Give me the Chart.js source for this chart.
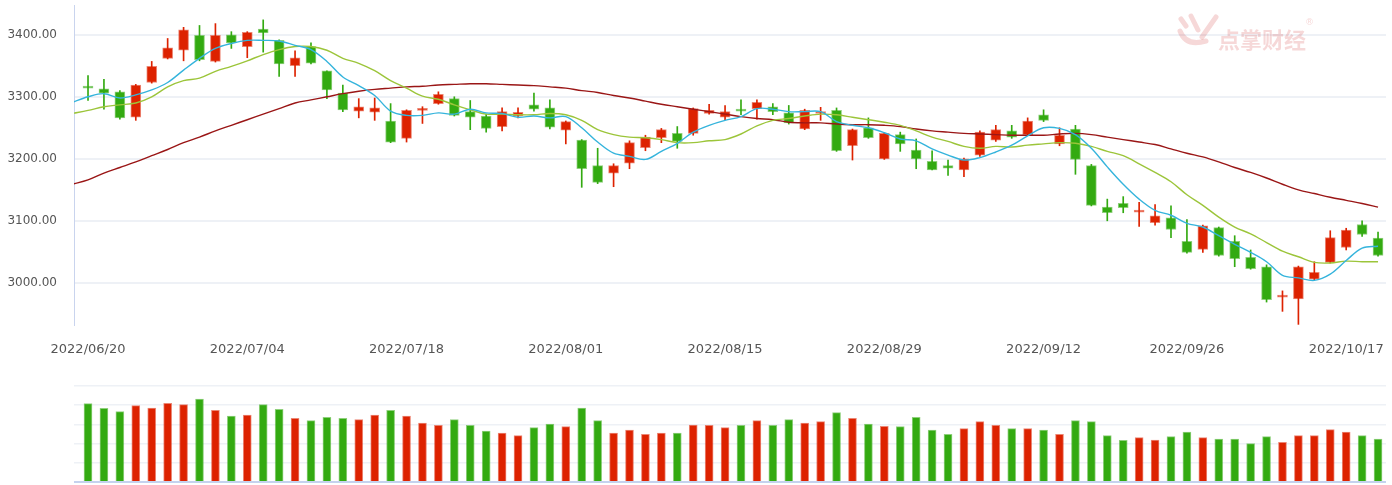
<!DOCTYPE html>
<html>
<head>
<meta charset="utf-8">
<script src="https://cdn.jsdelivr.net/npm/chart.js@4.4.0/dist/chart.umd.min.js"></script>
<style>
    html, body { margin: 0; padding: 0; background: #fff; }
    #wrap { position: relative; width: 1392px; height: 485px; }
    #kline { position: absolute; left: 0; top: 0; }
    #vol { position: absolute; left: 0; top: 380px; }
</style>
</head>
<body>
<div id="wrap">
    <canvas id="kline" width="1392" height="360"></canvas>
    <canvas id="vol" width="1392" height="105"></canvas>
</div>
<script>
// trading days in the window (index = x position)
const dates = [
    '2022/06/20', '2022/06/21', '2022/06/22', '2022/06/23', '2022/06/24', '2022/06/27', '2022/06/28', '2022/06/29', '2022/06/30',
    '2022/07/01', '2022/07/04', '2022/07/05', '2022/07/06', '2022/07/07', '2022/07/08', '2022/07/11', '2022/07/12', '2022/07/13',
    '2022/07/14', '2022/07/15', '2022/07/18', '2022/07/19', '2022/07/20', '2022/07/21', '2022/07/22', '2022/07/25', '2022/07/26',
    '2022/07/27', '2022/07/28', '2022/07/29', '2022/08/01', '2022/08/02', '2022/08/03', '2022/08/04', '2022/08/05', '2022/08/08',
    '2022/08/09', '2022/08/10', '2022/08/11', '2022/08/12', '2022/08/15', '2022/08/16', '2022/08/17', '2022/08/18', '2022/08/19',
    '2022/08/22', '2022/08/23', '2022/08/24', '2022/08/25', '2022/08/26', '2022/08/29', '2022/08/30', '2022/08/31', '2022/09/01',
    '2022/09/02', '2022/09/05', '2022/09/06', '2022/09/07', '2022/09/08', '2022/09/09', '2022/09/13', '2022/09/14', '2022/09/15',
    '2022/09/16', '2022/09/19', '2022/09/20', '2022/09/21', '2022/09/22', '2022/09/23', '2022/09/26', '2022/09/27', '2022/09/28',
    '2022/09/29', '2022/09/30', '2022/10/10', '2022/10/11', '2022/10/12', '2022/10/13', '2022/10/14', '2022/10/17', '2022/10/18',
    '2022/10/19'
]

const open_ = [3316, 3313, 3308, 3267, 3323, 3362, 3375, 3399, 3357, 3400, 3381, 3409, 3391, 3350, 3381, 3342, 3306, 3277, 3275, 3261,
    3233, 3278, 3289, 3297, 3276, 3269, 3252, 3269, 3287, 3282, 3246, 3230, 3189, 3177, 3193, 3218, 3234, 3241, 3241, 3273,
    3267, 3279, 3281, 3284, 3274, 3248, 3273, 3278, 3221, 3250, 3200, 3239, 3214, 3196, 3189, 3182, 3206, 3230, 3245, 3239,
    3271, 3224, 3248, 3189, 3122, 3128, 3114, 3097, 3105, 3067, 3054, 3089, 3067, 3041, 3026, 2977, 2974, 3006, 3033, 3057,
    3094, 3072]
const close_ = [3314, 3306, 3266, 3319, 3349, 3379, 3408, 3360, 3399, 3387, 3404, 3403, 3353, 3363, 3354, 3311, 3279, 3284, 3282, 3227,
    3278, 3279, 3304, 3270, 3267, 3249, 3276, 3275, 3280, 3251, 3260, 3184, 3162, 3189, 3226, 3235, 3247, 3228, 3281, 3278,
    3276, 3277, 3291, 3276, 3258, 3278, 3276, 3213, 3247, 3234, 3241, 3224, 3200, 3182, 3185, 3200, 3243, 3247, 3235, 3261,
    3262, 3238, 3199, 3125, 3113, 3121, 3117, 3108, 3086, 3049, 3092, 3044, 3039, 3023, 2973, 2980, 3026, 3017, 3073, 3085,
    3078, 3044]
const high_ = [3334, 3328, 3310, 3320, 3357, 3394, 3412, 3415, 3418, 3405, 3405, 3424, 3392, 3374, 3387, 3342, 3319, 3297, 3298, 3289,
    3279, 3284, 3308, 3300, 3294, 3272, 3282, 3282, 3306, 3295, 3261, 3231, 3217, 3192, 3229, 3238, 3249, 3252, 3282, 3288,
    3286, 3295, 3295, 3289, 3286, 3280, 3283, 3282, 3248, 3266, 3242, 3243, 3232, 3213, 3198, 3201, 3245, 3254, 3254, 3266,
    3279, 3250, 3254, 3191, 3135, 3139, 3130, 3126, 3124, 3102, 3093, 3090, 3076, 3053, 3029, 2987, 3027, 3034, 3084, 3088,
    3100, 3082]
const low_ = [3294, 3280, 3264, 3262, 3322, 3361, 3358, 3358, 3356, 3378, 3363, 3372, 3333, 3333, 3353, 3297, 3276, 3266, 3262, 3226,
    3227, 3257, 3288, 3269, 3247, 3243, 3245, 3266, 3277, 3248, 3224, 3154, 3160, 3155, 3184, 3213, 3226, 3217, 3238, 3272,
    3263, 3271, 3264, 3271, 3256, 3247, 3262, 3212, 3198, 3233, 3199, 3212, 3184, 3182, 3173, 3171, 3204, 3228, 3233, 3238,
    3260, 3221, 3175, 3124, 3100, 3113, 3091, 3093, 3073, 3048, 3049, 3043, 3026, 3022, 2969, 2954, 2933, 3005, 3032, 3053,
    3075, 3043]

const volume = [4080, 3837, 3663, 3975, 3854, 4097, 4028, 4323, 3732, 3437, 3489, 4028, 3785, 3316, 3194, 3368, 3316, 3246, 3489, 3732,
    3437, 3073, 2951, 3246, 2951, 2656, 2552, 2413, 2830, 3021, 2882, 3854, 3194, 2552, 2708, 2483, 2552, 2552, 2969, 2951,
    2830, 2951, 3194, 2951, 3246, 3073, 3142, 3611, 3316, 3021, 2899, 2882, 3368, 2708, 2483, 2778, 3142, 2951, 2778, 2778,
    2708, 2483, 3194, 3142, 2413, 2170, 2309, 2187, 2361, 2604, 2309, 2240, 2240, 1996, 2361, 2066, 2413, 2413, 2725, 2604,
    2413, 2240]

const ma5 = [3300, 3305, 3298, 3303, 3311, 3323, 3343, 3362, 3378, 3386, 3391, 3391, 3390, 3383, 3376, 3357, 3332, 3318, 3302, 3277,
    3270, 3270, 3274, 3272, 3280, 3274, 3273, 3267, 3269, 3266, 3268, 3250, 3227, 3209, 3204, 3199, 3212, 3225, 3243, 3254,
    3262, 3268, 3281, 3280, 3276, 3276, 3276, 3260, 3254, 3250, 3242, 3232, 3229, 3216, 3206, 3198, 3202, 3211, 3222, 3237,
    3250, 3249, 3239, 3217, 3187, 3159, 3135, 3117, 3109, 3096, 3090, 3076, 3062, 3049, 3034, 3012, 3008, 3004, 3014, 3036,
    3056, 3059]
const ma10 = [3278, 3284, 3287, 3290, 3300, 3316, 3326, 3330, 3341, 3349, 3358, 3368, 3376, 3381, 3381, 3375, 3362, 3354, 3342, 3326,
    3314, 3301, 3296, 3287, 3279, 3272, 3272, 3271, 3271, 3273, 3271, 3262, 3247, 3239, 3235, 3234, 3231, 3226, 3226, 3229,
    3231, 3240, 3253, 3262, 3265, 3269, 3272, 3271, 3267, 3263, 3259, 3254, 3245, 3235, 3228, 3220, 3217, 3220, 3219, 3222,
    3224, 3226, 3225, 3220, 3212, 3205, 3192, 3178, 3163, 3142, 3125, 3106, 3090, 3079, 3065, 3051, 3042, 3033, 3032, 3035,
    3034, 3034]
const ma30 = [3166, 3177, 3186, 3195, 3205, 3215, 3226, 3235, 3245, 3254, 3263, 3272, 3281, 3290, 3295, 3300, 3305, 3309, 3312, 3314,
    3316, 3317, 3319, 3320, 3321, 3321, 3320, 3319, 3318, 3316, 3314, 3310, 3307, 3302, 3298, 3293, 3288, 3284, 3280, 3276,
    3272, 3268, 3265, 3263, 3259, 3258, 3258, 3256, 3255, 3255, 3254, 3252, 3248, 3245, 3243, 3241, 3240, 3239, 3238, 3238,
    3238, 3240, 3241, 3239, 3235, 3231, 3227, 3223, 3216, 3209, 3203, 3195, 3186, 3178, 3169, 3159, 3150, 3144, 3138, 3133,
    3128, 3122]
// MA values of the day before the window (06/17), the lines run in from the left edge
const maPrev = [3291, 3273, 3159]

const tickPos = [0, 10, 20, 30, 40, 50, 60, 69, 79]
const tickLabels = ['2022/06/20', '2022/07/04', '2022/07/18', '2022/08/01', '2022/08/15', '2022/08/29', '2022/09/12', '2022/09/26', '2022/10/17']
const priceTicks = [3000, 3100, 3200, 3300, 3400]
const volTicks = [0, 1000, 2000, 3000, 4000, 5000]

const RED = '#dd2200'
const GREEN = '#33aa11'
const RED_EDGE = 'rgba(221,34,0,0.55)'
const GREEN_EDGE = 'rgba(51,170,17,0.55)'
const xMin = -0.88
const xMax = 81.5

Chart.defaults.font.family = "'DejaVu Sans', sans-serif"
Chart.defaults.animation = false

const isUp = close_.map((c, i) => c >= open_[i])
const fill = isUp.map(u => u ? RED : GREEN)
const edge = isUp.map(u => u ? RED_EDGE : GREEN_EDGE)

const lineData = (arr, prev) => [{x: -1, y: prev}].concat(arr.map((v, i) => ({x: i, y: v})))

const maLine = (label, arr, prev, color) => ({
    type: 'line',
    label: label,
    data: lineData(arr, prev),
    borderColor: color,
    borderWidth: 1.4,
    pointRadius: 0,
    tension: 0.35,
    order: 0,
})

// keep the plot box where the reference has it
const noPad = (s) => {
    s.paddingTop = 0
    s.paddingBottom = 0
    s.paddingLeft = 0
    s.paddingRight = 0
}

const watermark = {
    id: 'watermark',
    beforeDatasetsDraw: (chart) => {
        const ctx = chart.ctx
        ctx.save()
        ctx.globalAlpha = 0.2
        ctx.strokeStyle = '#d23c3c'
        ctx.fillStyle = '#d23c3c'
        ctx.lineCap = 'round'
        ctx.lineWidth = 5
        // hand logo, a few strokes
        ctx.beginPath()
        ctx.moveTo(1181, 19); ctx.lineTo(1186, 26)
        ctx.moveTo(1191, 16); ctx.lineTo(1198, 30)
        ctx.moveTo(1216, 17); ctx.lineTo(1202, 37)
        ctx.stroke()
        ctx.beginPath()
        ctx.moveTo(1180, 31)
        ctx.quadraticCurveTo(1186, 47, 1206, 41)
        ctx.stroke()
        ctx.font = "bold 22px 'Noto Sans CJK SC'"
        ctx.textBaseline = 'middle'
        ctx.fillText('点掌财经', 1218, 40)
        ctx.font = "9px 'DejaVu Sans'"
        ctx.fillText('®', 1305, 23)
        ctx.restore()
    }
}

new Chart(document.getElementById('kline'), {
    type: 'bar',
    data: {
        datasets: [
            maLine('MA5', ma5, maPrev[0], '#35b4dc'),
            maLine('MA10', ma10, maPrev[1], '#9cc53a'),
            maLine('MA30', ma30, maPrev[2], '#9a1616'),
            {
                label: 'body',
                data: open_.map((o, i) => ({x: i, y: [o, close_[i]]})),
                backgroundColor: fill,
                borderColor: edge,
                borderWidth: 1,
                borderSkipped: false,
                barThickness: 10,
                minBarLength: 2,
                grouped: false,
                order: 1,
            },
            {
                label: 'wick',
                data: high_.map((h, i) => ({x: i, y: [low_[i], h]})),
                backgroundColor: fill,
                barThickness: 1,
                grouped: false,
                order: 2,
            },
        ]
    },
    options: {
        responsive: false,
        devicePixelRatio: 1,
        layout: {padding: {top: 5, right: 6, left: 0, bottom: 0}},
        plugins: {legend: {display: false}, tooltip: {enabled: false}},
        scales: {
            x: {
                type: 'linear',
                min: xMin,
                max: xMax,
                offset: false,
                grid: {display: false, offset: false},
                border: {display: false},
                afterBuildTicks: (s) => { s.ticks = tickPos.map(v => ({value: v})) },
                afterFit: (s) => { s.height = 35; noPad(s) },
                ticks: {
                    autoSkip: false,
                    maxRotation: 0,
                    padding: 9,
                    color: '#555',
                    font: {size: 13},
                    callback: (v) => tickLabels[tickPos.indexOf(v)],
                },
            },
            y: {
                min: 2932,
                max: 3448,
                afterBuildTicks: (s) => { s.ticks = priceTicks.map(v => ({value: v})) },
                afterFit: (s) => { s.width = 74; noPad(s) },
                grid: {color: '#eef1f6', lineWidth: 2, drawTicks: false},
                border: {display: true, color: '#c9d4ee', width: 1},
                ticks: {
                    padding: 17,
                    color: '#555',
                    font: {size: 12},
                    callback: (v) => v.toFixed(2),
                },
            },
        },
    },
    plugins: [watermark],
})

new Chart(document.getElementById('vol'), {
    type: 'bar',
    data: {
        datasets: [{
            label: 'volume',
            data: volume.map((v, i) => ({x: i, y: v})),
            backgroundColor: fill,
            borderColor: edge,
            borderWidth: 1,
            borderSkipped: 'start',
            barThickness: 8,
        }]
    },
    options: {
        responsive: false,
        devicePixelRatio: 1,
        layout: {padding: {top: 6, right: 6, left: 0, bottom: 3}},
        plugins: {legend: {display: false}, tooltip: {enabled: false}},
        scales: {
            x: {type: 'linear', min: xMin, max: xMax, offset: false, display: false},
            y: {
                min: 0,
                max: 5000,
                afterBuildTicks: (s) => { s.ticks = volTicks.map(v => ({value: v})) },
                afterFit: (s) => { s.width = 74; noPad(s) },
                ticks: {display: false},
                border: {display: false},
                grid: {
                    drawTicks: false,
                    color: (c) => c.tick && c.tick.value === 0 ? '#c5d2ee' : '#eef1f6',
                    lineWidth: (c) => c.tick && c.tick.value === 0 ? 2 : 1.5,
                },
            },
        },
    },
})
</script>
</body>
</html>
